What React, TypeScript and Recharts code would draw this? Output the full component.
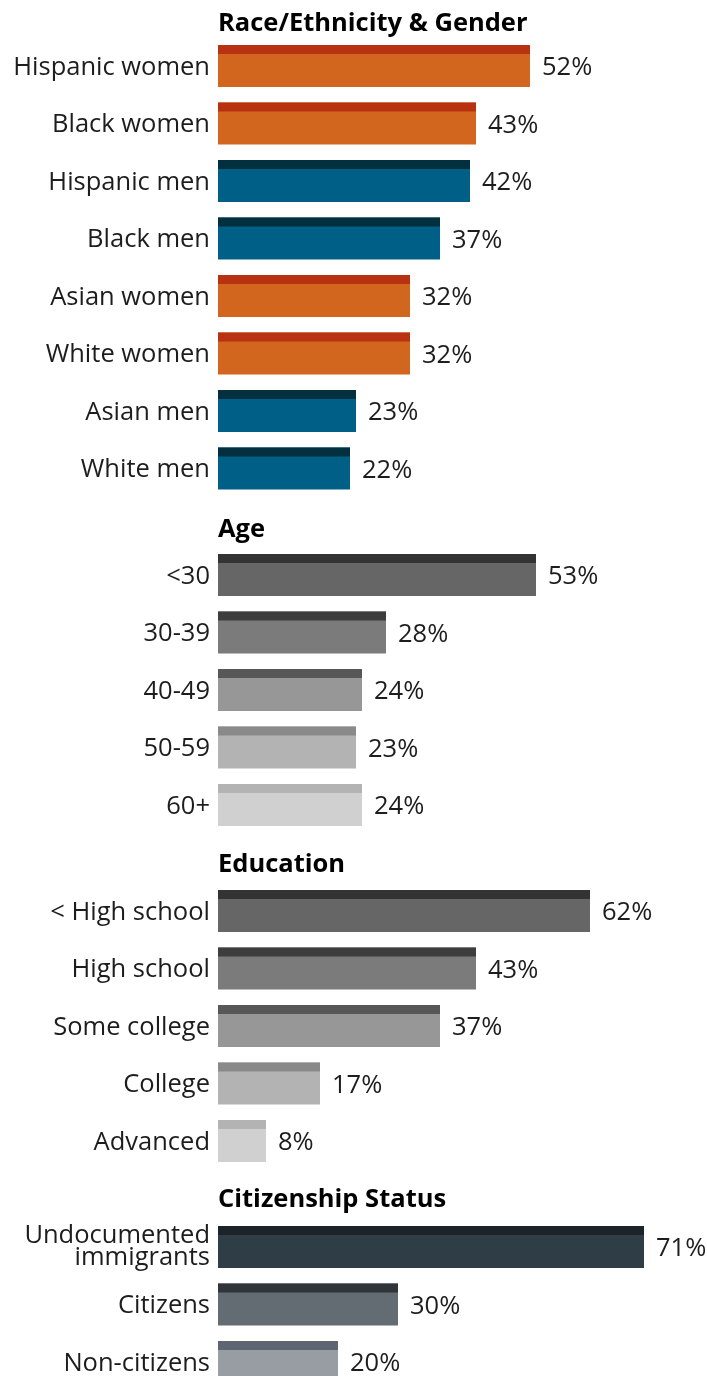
import { BarChart, Bar, XAxis, YAxis, LabelList, Cell } from "recharts";

const raceCategories = ["Hispanic women", "Black women", "Hispanic men", "Black men", "Asian women", "White women", "Asian men", "White men"];
const raceValues = [52, 43, 42, 37, 32, 32, 23, 22];

const ageCategories = ["<30", "30-39", "40-49", "50-59", "60+"];
const ageValues = [53, 28, 24, 23, 24];

const eduCategories = ["< High school", "High school", "Some college", "College", "Advanced"];
const eduValues = [62, 43, 37, 17, 8];

const citCategories = ["Undocumented immigrants", "Citizens", "Non-citizens"];
const citValues = [71, 30, 20];

// colours (main fill / darker top strip)
const ORANGE = "#d3661e";
const ORANGE_TOP = "#b83111";
const BLUE = "#005f87";
const BLUE_TOP = "#03303f";
const raceFills = [ORANGE, ORANGE, BLUE, BLUE, ORANGE, ORANGE, BLUE, BLUE];
const raceTops = [ORANGE_TOP, ORANGE_TOP, BLUE_TOP, BLUE_TOP, ORANGE_TOP, ORANGE_TOP, BLUE_TOP, BLUE_TOP];
const grayFills = ["#666666", "#7b7b7b", "#979797", "#b3b3b3", "#d0d0d0"];
const grayTops = ["#333333", "#3d3d3d", "#575757", "#8a8a8a", "#b3b3b3"];
const citFills = ["#2f3d47", "#636b73", "#979da3"];
const citTops = ["#1c2329", "#2f3439", "#5e6570"];

const FONT = "'Open Sans', sans-serif";
const TEXT = "#1d1d1d";
const LABEL_SIZE = 25.5;
const TITLE_SIZE = 25.5;
const ROW = 57.5;
const PAD = 12; // room above first row so two-line labels aren't clipped

const Tick = (props: any) => {
  const { x, y, payload } = props;
  const label: string = payload.value;
  if (label === "Undocumented immigrants") {
    return (
      <text x={x} textAnchor="end" fontSize={LABEL_SIZE} fontFamily={FONT} fill={TEXT}>
        <tspan x={x} y={y - 3.5}>Undocumented</tspan>
        <tspan x={x} y={y + 18}>immigrants</tspan>
      </text>
    );
  }
  return (
    <text x={x} y={y} dy="0.355em" textAnchor="end" fontSize={LABEL_SIZE} fontFamily={FONT} fill={TEXT}>
      {label}
    </text>
  );
};

const Section = ({ title, titleTop, top, categories, values, fills, tops }: any) => {
  const data = categories.map((name: string, i: number) => ({ name, value: values[i] }));
  const BarShape = (p: any) => {
    const { x, y, width, height, index } = p;
    return (
      <g>
        <rect x={x} y={y} width={width} height={height} fill={fills[index]} />
        <rect x={x} y={y} width={width} height={9} fill={tops[index]} />
      </g>
    );
  };
  return (
    <>
      <div
        style={{
          position: "absolute",
          left: 210,
          top: titleTop - TITLE_SIZE * 0.888,
          fontFamily: FONT,
          fontWeight: 700,
          fontSize: TITLE_SIZE,
          lineHeight: `${TITLE_SIZE}px`,
          color: "#000",
          whiteSpace: "nowrap",
        }}
      >
        {title}
      </div>
      <div style={{ position: "absolute", left: 0, top: top - PAD }}>
        <BarChart
          width={699}
          height={categories.length * ROW + PAD}
          data={data}
          layout="vertical"
          margin={{ top: PAD, right: 9, bottom: 0, left: 0 }}
        >
          <XAxis type="number" domain={[0, 80]} hide />
          <YAxis
            type="category"
            dataKey="name"
            width={210}
            tickLine={false}
            axisLine={false}
            interval={0}
            tick={<Tick />}
          />
          <Bar dataKey="value" barSize={42} shape={BarShape} isAnimationActive={false}>
            {data.map((_: any, i: number) => (
              <Cell key={i} fill={fills[i]} />
            ))}
            <LabelList
              dataKey="value"
              position="right"
              offset={12}
              formatter={(v: any) => `${v}%`}
              style={{ fontSize: LABEL_SIZE, fontFamily: FONT, fill: TEXT }}
            />
          </Bar>
        </BarChart>
      </div>
    </>
  );
};

export default function App() {
  return (
    <div style={{ position: "fixed", left: 8, top: 8, width: 699, height: 1368 }}>
      <Section title="Race/Ethnicity & Gender" titleTop={24} top={29} categories={raceCategories} values={raceValues} fills={raceFills} tops={raceTops} />
      <Section title="Age" titleTop={530} top={538} categories={ageCategories} values={ageValues} fills={grayFills} tops={grayTops} />
      <Section title="Education" titleTop={865} top={874} categories={eduCategories} values={eduValues} fills={grayFills} tops={grayTops} />
      <Section title="Citizenship Status" titleTop={1200} top={1210} categories={citCategories} values={citValues} fills={citFills} tops={citTops} />
    </div>
  );
}
